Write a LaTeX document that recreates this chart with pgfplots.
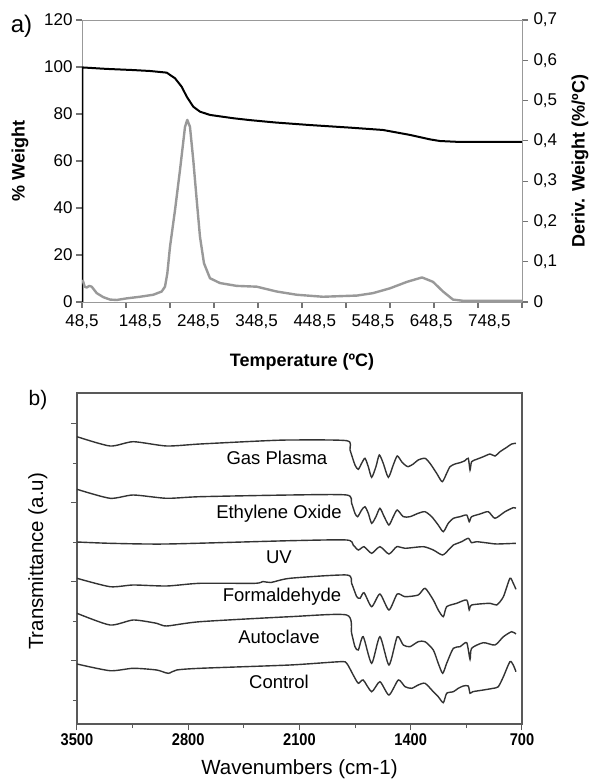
\documentclass[border=0pt]{standalone}
\usepackage{fontspec}
\setmainfont{Liberation Sans}
\newfontfamily\narrowfont[FakeStretch=0.86]{Liberation Sans}
\usepackage{pgfplots}
\pgfplotsset{compat=1.18}

\begin{document}
\begin{tikzpicture}
\useasboundingbox (0pt,0pt) rectangle (589pt,780pt);

\pgfplotsset{
  spec/.style={black!80, line width=1.4pt, smooth, tension=0.4, no markers},
}

% ---------- a) TGA ----------
% main axis: % Weight
\begin{axis}[
  at={(82pt,478pt)}, anchor=south west,
  scale only axis, width=440pt, height=282pt,
  xmin=48.5, xmax=804.5, ymin=0, ymax=120,
  ytick={0,20,40,60,80,100,120},
  yticklabels={0,20,40,60,80,100,120},
  ytick pos=left, xtick=\empty,
  tick align=outside, major tick length=6pt,
  axis line style={draw=gray!80, line width=0.8pt},
  tick style={draw=black!55, line width=1.1pt},
  tick label style={font=\fontsize{17}{20}\selectfont},
  label style={font=\bfseries\fontsize{18}{21}\selectfont},
  xlabel={Temperature (ºC)},
  xlabel style={at={(axis description cs:0.5,-0.213)}, anchor=center},
  ylabel={\% Weight},
  ylabel style={at={(axis description cs:-0.141,0.5)}, anchor=center},
]
\addplot[black, line width=2pt, line join=round] coordinates {
(49.2,0) (49.2,99.8) (50.2,99.8) (90,99.2) (136.1,98.7) (165.3,98.3)
(194,97.6) (208.3,95.2) (219.8,91.6) (228.4,87.4) (239.7,83.1) (251.2,81.0)
(268.4,79.6) (308.4,78.2) (337.1,77.4) (380,76.4) (440,75.3) (509,74.2)
(565.7,73.2) (612,71.1) (646.4,69.2) (663.6,68.5) (698,68.1) (804.5,68.1)
};
\end{axis}

% tick marks of the temperature axis (ten equal divisions)
\begin{axis}[
  at={(82pt,478pt)}, anchor=south west,
  scale only axis, width=440pt, height=282pt,
  xmin=48.5, xmax=804.5, ymin=0, ymax=1,
  axis y line=none, axis x line*=bottom,
  xtick={48.5,124.1,199.7,275.3,350.9,426.5,502.1,577.7,653.3,728.9,804.5},
  xticklabels={},
  tick align=outside, major tick length=6pt,
  axis line style={draw=gray!80, line width=0.8pt},
  tick style={draw=black!55, line width=1.1pt},
]
\end{axis}

% labels of the temperature axis
\begin{axis}[
  at={(82pt,478pt)}, anchor=south west,
  scale only axis, width=440pt, height=282pt,
  xmin=48.5, xmax=804.5, ymin=0, ymax=1,
  axis y line=none, axis x line*=bottom,
  axis line style={draw=none}, major tick length=0pt,
  tick style={draw=none},
  xtick={48.5,148.5,248.5,348.5,448.5,548.5,648.5,748.5},
  xticklabels={{48,5},{148,5},{248,5},{348,5},{448,5},{548,5},{648,5},{748,5}},
  xticklabel style={font=\fontsize{17}{20}\selectfont, yshift=-9.5pt},
]
\end{axis}

% right axis: derivative weight
\begin{axis}[
  at={(82pt,478pt)}, anchor=south west,
  scale only axis, width=440pt, height=282pt,
  xmin=48.5, xmax=804.5, ymin=0, ymax=0.7,
  axis x line=none, axis y line*=right,
  ytick={0,0.1,0.2,0.3,0.4,0.5,0.6,0.7},
  yticklabels={0,{0,1},{0,2},{0,3},{0,4},{0,5},{0,6},{0,7}},
  tick align=outside, major tick length=6pt,
  axis line style={draw=gray!80, line width=0.8pt},
  tick style={draw=black!55, line width=1.1pt},
  tick label style={font=\fontsize{17}{20}\selectfont},
  yticklabel style={xshift=2pt},
  label style={font=\bfseries\fontsize{18}{21}\selectfont},
  ylabel={Deriv. Weight (\%/ºC)},
  ylabel style={at={(axis description cs:1.132,0.5)}, anchor=center},
]
\addplot[gray!80, line width=2.4pt, line join=round] coordinates {
(49.2,0.055) (50.7,0.050) (53,0.038) (56.6,0.036) (61,0.040) (65.2,0.038)
(73.8,0.022) (85.1,0.012) (96.6,0.006) (108.1,0.005) (125.3,0.009)
(148.2,0.013) (171,0.018) (185.4,0.026) (191.1,0.038) (195.1,0.071)
(199.7,0.137) (208.3,0.228) (216.9,0.328) (225.5,0.435) (229.4,0.452)
(234,0.435) (239.7,0.352) (245.6,0.253) (251.2,0.162) (258.1,0.096)
(268.4,0.059) (285.6,0.047) (314.3,0.040) (348.7,0.038) (383,0.026)
(417.4,0.018) (462.6,0.013) (521,0.016) (548.5,0.022) (577.7,0.034)
(606.9,0.050) (632.7,0.061) (651.6,0.050) (668.8,0.026) (685.9,0.006)
(703.1,0.003) (804.5,0.003)
};
\end{axis}

\node[font=\fontsize{24}{28}\selectfont] at (21.5pt,754pt) {a)};

% ---------- b) FTIR ----------
\begin{axis}[
  at={(77pt,56pt)}, anchor=south west,
  scale only axis, width=445pt, height=331pt,
  x dir=reverse, xmin=700, xmax=3500, ymin=0, ymax=331,
  xtick pos=lower, ytick pos=left,
  xtick={700,1400,2100,2800,3500},
  xticklabels={700,1400,2100,2800,3500},
  minor xtick={1050,1750,2450,3150},
  ytick={63,142,221,300}, minor ytick={23,102,181,260}, yticklabels={},
  tick align=outside, major tick length=6pt, minor tick length=4pt,
  axis line style={draw=black!65, line width=1.2pt},
  tick style={draw=black!65, line width=1pt},
  xticklabel style={font=\narrowfont\bfseries\fontsize{17}{20}\selectfont},
  label style={font=\fontsize{20.5}{24}\selectfont},
  xlabel={Wavenumbers (cm-1)},
  xlabel style={at={(axis description cs:0.5,-0.136)}, anchor=center},
  ylabel={Transmittance (a.u)},
  ylabel style={at={(axis description cs:-0.088,0.491)}, anchor=center},
]
% Gas Plasma
\addplot[spec] coordinates {
(3500,287.3) (3292,278) (3146,282.3) (2936,278) (2726,280) (2349,283) (2160,284)
(1803,283.3) (1782,274) (1751,259) (1730,254.7) (1709,260.7) (1688,265.7)
(1667,257.3) (1646,246.7) (1619,257.3) (1598,269) (1573,260.7) (1541,246.7)
(1510,259) (1485,268) (1457,262.3) (1436,259) (1416,257.3) (1384,260) (1353,264)
(1310,265.7) (1279,260.7) (1237,250.7) (1202,242.3) (1174,250.7) (1153,257.3)
(1122,260) (1090,261.3) (1059,263.3) (1038,265.7) (1027,254) (1017,262.3)
(985,264.7) (943,267.3) (901,270) (870,268) (838,272.3) (796,276.7) (765,280) (738,280.7)
};
% Ethylene Oxide
\addplot[spec] coordinates {
(3500,234.7) (3292,225.7) (3146,229) (2936,225.7) (2726,227.3) (2160,229)
(1803,229) (1772,220.7) (1751,210.7) (1734,207.3) (1709,214) (1688,217.3)
(1667,210.7) (1646,200.7) (1619,207.3) (1594,215.7) (1567,207.3) (1537,199)
(1510,207.3) (1485,214) (1447,207.3) (1405,207.3) (1353,210.7) (1310,212.3)
(1268,207.3) (1227,199) (1195,192.3) (1164,200.7) (1132,205.7) (1090,207.3)
(1048,209) (1032,202.3) (1017,207.3) (964,210) (912,212.3) (870,205.7)
(807,212.3) (755,216.3) (738,215.7)
};
% UV
\addplot[spec] coordinates {
(3500,182) (3292,180.7) (2936,180) (2160,183.3) (1803,184) (1762,179) (1730,174)
(1694,177.3) (1646,170.7) (1594,177.3) (1537,170) (1488,177.3) (1436,175.7)
(1321,177.3) (1258,174) (1199,169) (1153,175.7) (1132,179) (1080,182.3)
(1038,185.7) (1017,181.3) (985,182.3) (901,180.7) (859,180) (738,180.7)
};
% Formaldehyde
\addplot[spec] coordinates {
(3500,145.7) (3292,137.3) (3146,139) (2936,138) (2726,140.7) (2380,140.7)
(2330,142.5) (2280,141.5) (2160,145.7) (1803,149) (1772,140.7) (1740,127.3)
(1719,125.7) (1694,131.3) (1646,117.3) (1594,130) (1537,114) (1485,130)
(1436,127.3) (1353,129) (1310,135.7) (1258,124) (1227,114) (1195,107.3)
(1174,117.3) (1111,120.7) (1048,124) (1032,114) (1017,119) (901,120.7)
(859,119) (817,127.3) (776,145.7) (755,140.7) (738,134.7)
};
% Autoclave
\addplot[spec] coordinates {
(3500,110.7) (3292,99) (3146,104) (2999,100.7) (2936,98) (2726,102.3) (2160,107.3)
(1803,109) (1772,90.7) (1751,77.3) (1730,74) (1699,87.3) (1646,60.7) (1594,87.3)
(1537,59) (1485,87.3) (1447,79) (1405,77.3) (1353,82.3) (1310,82.3) (1258,74)
(1227,60.7) (1199,50.7) (1174,60.7) (1132,75.7) (1090,77.3) (1048,81.3)
(1027,64.7) (1017,75.7) (943,81.3) (870,79) (817,87.3) (765,92.3) (738,90)
};
% Control
\addplot[spec] coordinates {
(3500,60) (3292,53.3) (3146,55.7) (2999,54) (2926,50.7) (2873,54) (2726,55.7)
(2160,59) (1845,62.3) (1803,60.7) (1762,49) (1730,40.7) (1699,44) (1646,32.3)
(1594,42.3) (1537,29) (1478,44) (1436,37.3) (1394,35.7) (1353,39) (1310,40.7)
(1258,32.3) (1227,27.3) (1195,21.3) (1174,30.7) (1132,32.3) (1101,35.7)
(1069,38) (1038,38) (1027,30.7) (1010,32.3) (943,34) (881,35.7) (849,37.3)
(817,47.3) (776,62.3) (755,59) (738,52.3)
};
\begin{scope}[every node/.style={font=\fontsize{18.5}{22}\selectfont}]
\node at (axis cs:2242,266) {Gas Plasma};
\node at (axis cs:2229,210) {Ethylene Oxide};
\node at (axis cs:2229,167) {UV};
\node at (axis cs:2210,127) {Formaldehyde};
\node at (axis cs:2229,87) {Autoclave};
\node at (axis cs:2229,42) {Control};
\end{scope}
\end{axis}

\node[font=\fontsize{21}{25}\selectfont] at (38pt,379.5pt) {b)};
\end{tikzpicture}
\end{document}
